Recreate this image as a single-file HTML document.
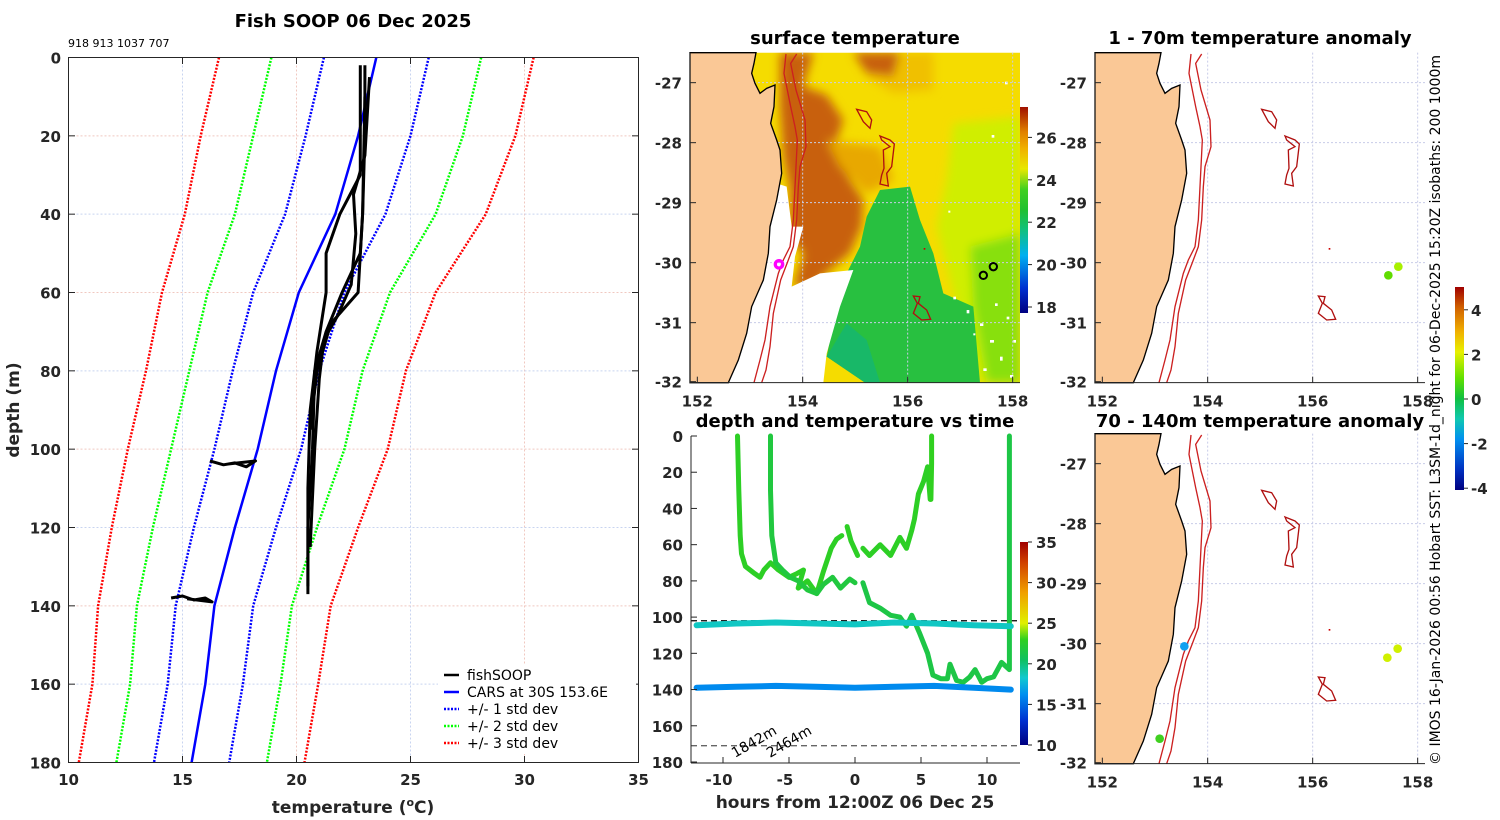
<!DOCTYPE html>
<html><head><meta charset="utf-8">
<style>
html,body{margin:0;padding:0;background:#fff;}
svg{display:block;font-family:"DejaVu Sans","Liberation Sans",sans-serif;}
.tk{font-size:15px;font-weight:bold;fill:#262626;}
.tt{font-size:18px;font-weight:bold;fill:#000;}
.lg{font-size:14px;fill:#000;}
</style></head>
<body>
<svg id="fig" width="1500" height="820" viewBox="0 0 1500 820" xmlns="http://www.w3.org/2000/svg">
<defs>
<linearGradient id="cbSST" x1="0" y1="1" x2="0" y2="0">
<stop offset="0" stop-color="#000080"/><stop offset="0.12" stop-color="#0030d0"/><stop offset="0.28" stop-color="#00b0f0"/><stop offset="0.4" stop-color="#10c080"/><stop offset="0.5" stop-color="#20c030"/><stop offset="0.6" stop-color="#40d020"/><stop offset="0.7" stop-color="#e8e800"/><stop offset="0.8" stop-color="#f0b000"/><stop offset="0.88" stop-color="#e08000"/><stop offset="1" stop-color="#a01000"/></linearGradient>
<linearGradient id="cbT" x1="0" y1="1" x2="0" y2="0">
<stop offset="0" stop-color="#000080"/><stop offset="0.12" stop-color="#0030d0"/><stop offset="0.25" stop-color="#0090f0"/><stop offset="0.33" stop-color="#10c8d0"/><stop offset="0.42" stop-color="#10c060"/><stop offset="0.52" stop-color="#30d020"/><stop offset="0.6" stop-color="#e0f000"/><stop offset="0.75" stop-color="#f0a000"/><stop offset="0.9" stop-color="#d04000"/><stop offset="1" stop-color="#a00000"/></linearGradient>
<linearGradient id="cbA" x1="0" y1="1" x2="0" y2="0">
<stop offset="0" stop-color="#000080"/><stop offset="0.1" stop-color="#0030c0"/><stop offset="0.25" stop-color="#0090f0"/><stop offset="0.35" stop-color="#10c8b0"/><stop offset="0.45" stop-color="#10c040"/><stop offset="0.55" stop-color="#60e000"/><stop offset="0.68" stop-color="#e8f000"/><stop offset="0.78" stop-color="#f0b000"/><stop offset="0.9" stop-color="#d06000"/><stop offset="1" stop-color="#a00000"/></linearGradient>
<filter id="bl"><feGaussianBlur stdDeviation="14"/></filter>
<clipPath id="clipMap"><rect x="30" y="38" width="990" height="990"/></clipPath>
</defs>

<!-- ===== Panel 1 ===== -->
<text class="tt" x="353" y="27" text-anchor="middle">Fish SOOP 06 Dec 2025</text>
<text x="68" y="47" font-size="11" fill="#000">918 913 1037 707</text>
<g id="p1grid"></g>
<g id="p1marks"></g>
<rect x="68.5" y="57.5" width="570" height="705" fill="none" stroke="#262626" stroke-width="1"/>
<g id="p1ticks"></g>
<text x="353" y="813" text-anchor="middle" font-size="17" font-weight="bold" fill="#262626">temperature (<tspan font-size="11" dy="-7">o</tspan><tspan dy="7">C)</tspan></text>
<text transform="translate(19,410) rotate(-90)" text-anchor="middle" font-size="17" font-weight="bold" fill="#262626">depth (m)</text>
<g>
<rect x="438" y="664" width="198" height="90" fill="#fff"/>
<line x1="444" y1="675" x2="459" y2="675" stroke="#000" stroke-width="2.5"/>
<text class="lg" x="467" y="680">fishSOOP</text>
<line x1="444" y1="692" x2="459" y2="692" stroke="#0000ff" stroke-width="2.5"/>
<text class="lg" x="467" y="697">CARS at 30S 153.6E</text>
<line x1="444" y1="709" x2="459" y2="709" stroke="#0000ff" stroke-width="2.5" stroke-dasharray="2,1.5"/>
<text class="lg" x="467" y="714">+/- 1 std dev</text>
<line x1="444" y1="726" x2="459" y2="726" stroke="#00ff00" stroke-width="2.5" stroke-dasharray="2,1.5"/>
<text class="lg" x="467" y="731">+/- 2 std dev</text>
<line x1="444" y1="743" x2="459" y2="743" stroke="#ff0000" stroke-width="2.5" stroke-dasharray="2,1.5"/>
<text class="lg" x="467" y="748">+/- 3 std dev</text>
</g>

<!-- ===== Panel 2: surface temperature map ===== -->
<text class="tt" x="855" y="44" text-anchor="middle">surface temperature</text>
<g transform="translate(680,40) scale(0.33333)">
 <g clip-path="url(#clipMap)">
  <rect x="30" y="38" width="990" height="990" fill="#f5dc00"/>
  <g filter="url(#bl)">
   <path d="M600,38 L760,38 L760,150 L640,160 L560,110 Z" fill="#f0c000"/>
   <path d="M820,250 L1020,230 L1020,1028 L900,1028 L820,760 L770,560 L800,420 Z" fill="#d0ee00"/>
   <path d="M870,620 L1020,580 L1020,1028 L920,1028 L880,800 Z" fill="#88e010"/>
   <path d="M520,38 L660,38 L640,110 L560,100 Z" fill="#c86010"/>
   <path d="M300,38 L400,38 L370,140 L440,165 L490,240 L460,330 L510,420 L550,480 L545,560 L510,640 L450,690 L400,740 L340,740 L370,640 L330,600 L330,450 L310,350 L300,200 Z" fill="#c86008"/>
   <path d="M440,300 L600,320 L640,420 L560,460 L480,380 Z" fill="#e8a800"/>
  </g>
  <path d="M600,450 L690,440 L720,540 L760,640 L790,760 L880,800 L900,1028 L555,1028 L440,950 L470,800 L500,700 L540,620 L560,530 Z" fill="#28c040"/>
  <path d="M440,950 L500,850 L560,900 L600,1028 L555,1028 Z" fill="#18b868"/>
  <path d="M290,430 L320,440 L335,560 L370,560 L345,650 L335,740 L420,700 L520,690 L480,800 L440,940 L430,1028 L145,1028 L175,960 L200,880 L215,800 L250,720 L265,640 L270,560 L285,480 Z" fill="#ffffff"/>
  <g fill="#fff">
   <rect x="820" y="770" width="8" height="8"/><rect x="860" y="810" width="8" height="10"/><rect x="900" y="850" width="10" height="8"/><rect x="930" y="900" width="12" height="8"/><rect x="960" y="950" width="8" height="12"/><rect x="910" y="985" width="10" height="8"/><rect x="980" y="830" width="8" height="8"/><rect x="945" y="790" width="8" height="8"/><rect x="990" y="1005" width="10" height="8"/><rect x="935" y="285" width="8" height="8"/><rect x="975" y="125" width="8" height="8"/><rect x="805" y="512" width="6" height="6"/><rect x="880" y="880" width="6" height="6"/><rect x="1000" y="900" width="8" height="8"/>
  </g>
 </g>
</g>
<g id="map2static"></g>
<rect x="1020" y="107" width="8" height="206" fill="url(#cbSST)"/>
<g id="cb2ticks"></g>

<!-- ===== Panel 3: depth vs time ===== -->
<text class="tt" x="855" y="427" text-anchor="middle">depth and temperature vs time</text>
<g id="p3marks"></g>
<g id="p3ticks"></g>
<text x="855" y="808" text-anchor="middle" font-size="17" font-weight="bold" fill="#262626">hours from 12:00Z 06 Dec 25</text>
<rect x="1020" y="542" width="8" height="203" fill="url(#cbT)"/>
<g id="cb3ticks"></g>

<!-- ===== Panels 4 & 5 ===== -->
<text class="tt" x="1260" y="44" text-anchor="middle">1 - 70m temperature anomaly</text>
<text class="tt" x="1260" y="427" text-anchor="middle">70 - 140m temperature anomaly</text>
<g id="map4"></g>
<g id="map5"></g>
<rect x="1455" y="287" width="9" height="203" fill="url(#cbA)"/>
<g id="cbAticks"></g>
<text transform="translate(1440,410) rotate(-90)" text-anchor="middle" font-size="14" fill="#000">© IMOS 16-Jan-2026 00:56 Hobart SST: L3SM-1d_night for 06-Dec-2025 15:20Z isobaths: 200  1000m</text>
</svg>

<script>
// ---------- Panel 1 data ----------
const depthLevels = [0, 20, 40, 60, 80, 100, 120, 140, 160, 180];
const carsMean = [23.5, 22.7, 21.7, 20.1, 19.1, 18.3, 17.3, 16.4, 16.0, 15.4];
const carsStd = [2.3, 2.3, 2.2, 2.0, 1.9, 1.9, 1.8, 1.7, 1.65, 1.65];
const prof1T = [23.0, 23.0, 22.9, 22.8, 22.0, 21.3, 20.8, 20.7, 20.5, 20.5];
const prof1D = [2, 20, 40, 50, 60, 70, 80, 100, 120, 137];
const prof2T = [22.8, 22.8, 21.9, 21.3, 21.3, 20.9, 20.6, 20.5, 20.5];
const prof2D = [2, 30, 40, 50, 60, 75, 90, 110, 135];
const prof3T = [23.2, 23.0, 22.5, 22.6, 22.4, 21.8, 21.2, 21.0, 20.8, 20.6];
const prof3D = [5, 25, 35, 45, 58, 66, 72, 82, 100, 125];
const prof4T = [23.0, 22.9, 22.7, 21.5, 20.9, 20.6];
const prof4D = [10, 40, 60, 68, 80, 95];
const blob1T = [16.2, 16.8, 17.3, 17.8, 18.2, 17.0];
const blob1D = [103, 104, 103.5, 104.5, 103, 103.8];
const blob2T = [14.5, 15.0, 15.5, 16.0, 16.3, 15.2];
const blob2D = [138, 137.5, 138.5, 138, 139, 138.2];
const xTicks1 = [10, 15, 20, 25, 30, 35];
const yTicks1 = [0, 20, 40, 60, 80, 100, 120, 140, 160, 180];

const NS = 'http://www.w3.org/2000/svg';
function mk(tag, attrs, parent){ const e=document.createElementNS(NS,tag); for(const k in attrs) e.setAttribute(k,attrs[k]); parent.appendChild(e); return e; }
const xT = t => 68.5 + (t-10)*22.8;
const yD = d => 57.5 + d*(705/180);

const g1 = document.getElementById('p1grid');
xTicks1.slice(1,-1).forEach((t,i)=>{
  const l=mk('line',{x1:xT(t),x2:xT(t),y1:57.5,y2:762.5,stroke:i%2?'#f0c8c0':'#c8d4f0','stroke-dasharray':'2,2'},g1);
   
});
yTicks1.slice(1,-1).forEach((d,i)=>{
  const l=mk('line',{x1:68.5,x2:638.5,y1:yD(d),y2:yD(d),stroke:i%2?'#c8d4f0':'#f0c8c0','stroke-dasharray':'2,2'},g1);
   
});
const m1 = document.getElementById('p1marks');
function pl(T,D,attrs,name){
  const pts=T.map((t,i)=>xT(t).toFixed(1)+','+yD(D[i]).toFixed(1)).join(' ');
  const p=mk('polyline',Object.assign({points:pts,fill:'none','stroke-linejoin':'round'},attrs),m1);
   
}
[[1,'#0000ff','std1'],[2,'#00ff00','std2'],[3,'#ff0000','std3']].forEach(([k,c,n])=>{
  pl(carsMean.map((m,i)=>m-k*carsStd[i]),depthLevels,{stroke:c,'stroke-width':2.5,'stroke-dasharray':'2,1.5'},n+'-lower');
  pl(carsMean.map((m,i)=>m+k*carsStd[i]),depthLevels,{stroke:c,'stroke-width':2.5,'stroke-dasharray':'2,1.5'},n+'-upper');
});
pl(carsMean,depthLevels,{stroke:'#0000ff','stroke-width':2.5},'cars-mean-line');
[[prof1T,prof1D],[prof2T,prof2D],[prof3T,prof3D],[prof4T,prof4D],[blob1T,blob1D],[blob2T,blob2D]].forEach(([T,D],i)=>{
  pl(T,D,{stroke:'#000','stroke-width':3},'fishsoop-profile-'+(i+1));
});
const t1=document.getElementById('p1ticks');
xTicks1.forEach(t=>{
  mk('line',{x1:xT(t),x2:xT(t),y1:762.5,y2:756,stroke:'#262626'},t1);
  mk('line',{x1:xT(t),x2:xT(t),y1:57.5,y2:64,stroke:'#262626'},t1);
  const tx=mk('text',{x:xT(t),y:785,class:'tk','text-anchor':'middle'},t1); tx.textContent=t;
   
});
yTicks1.forEach(d=>{
  mk('line',{x1:68.5,x2:75,y1:yD(d),y2:yD(d),stroke:'#262626'},t1);
  mk('line',{x1:638.5,x2:632,y1:yD(d),y2:yD(d),stroke:'#262626'},t1);
  const tx=mk('text',{x:61,y:yD(d)+6,class:'tk','text-anchor':'end'},t1); tx.textContent=d;
   
});

// ---------- Panel 3 data ----------
const trackA_t = [-8.9,-8.8,-8.7,-8.6,-8.3,-7.6,-7.2,-6.9,-6.4,-5.8,-5.0,-4.4,-3.9,-4.3,-3.6,-2.9,-2.4,-1.8,-1.4,-1.0];
const trackA_d = [0,30,55,65,72,76,78,74,70,74,78,76,74,84,80,87,75,62,57,55];
const trackA2_t = [-0.6,-0.3,0.2];
const trackA2_d = [50,58,66];
const trackA3_t = [0.6,1.1,1.9,2.7,3.4,3.9,4.3,4.5,4.8,5.2,5.5,5.7];
const trackA3_d = [62,66,60,66,56,62,52,46,32,25,17,35];
const trackA4_t = [5.75,5.8,5.8];
const trackA4_d = [35,15,0];
const trackB_t = [-6.4,-6.4,-6.3,-6.0,-5.5,-4.9,-4.3,-3.6,-2.9,-2.4,-1.7,-1.1,-0.4,0.0];
const trackB_d = [0,30,55,70,74,78,80,85,87,82,78,84,79,81];
const trackB2_t = [0.6,1.1,1.9,2.7,3.4,3.9,4.3,4.9,5.5,5.9,6.5,7.0,7.2,7.7,8.2,8.7,9.1,9.6,10.0,10.5,11.1,11.7,11.7,11.7];
const trackB2_d = [81,92,95,99,100,105,99,109,120,132,134,134,126,135,136,133,129,136,134,133,125,129,60,0];
const mid_t = [-12,-9,-6,-3,0,3,6,9,11.8];
const mid_d = [104.5,103.5,103,103.5,104,103,103.5,104.5,105];
const deep_t = [-12,-9,-6,-3,0,3,6,9,11.8];
const deep_d = [139,138.5,138,138.5,139,138.5,138,139,140];
const trackTemps = [22.8, 22.8, 22.8, 23.0, 21.8, 21.5, 18.3, 15.8];
const xTicks3 = [-10,-5,0,5,10];
const yTicks3 = [0,20,40,60,80,100,120,140,160,180];
const cTicks3 = [10,15,20,25,30,35];
const isoDepths = [102, 171];

const xH = h => 855 + h*13.2;
const yM = d => 436 + d*(326/180);
const stops=[[10,[0,0,128]],[13,[0,48,208]],[16,[0,144,240]],[18,[16,200,208]],[20.5,[16,192,96]],[23,[48,208,32]],[25,[224,240,0]],[29,[240,160,0]],[32.5,[208,64,0]],[35,[160,0,0]]];
function cmap(v){
  for(let i=1;i<stops.length;i++){ if(v<=stops[i][0]){ const [a,ca]=stops[i-1],[b,cb]=stops[i]; const f=Math.max(0,(v-a)/(b-a)); return 'rgb('+ca.map((c,j)=>Math.round(c+(cb[j]-c)*f)).join(',')+')'; } }
  return 'rgb(160,0,0)';
}
const m3=document.getElementById('p3marks');
const tr=[[trackA_t,trackA_d],[trackA2_t,trackA2_d],[trackA3_t,trackA3_d],[trackA4_t,trackA4_d],[trackB_t,trackB_d],[trackB2_t,trackB2_d],[mid_t,mid_d],[deep_t,deep_d]];
isoDepths.forEach((d,i)=>{
  const l=mk('line',{x1:691,x2:1020,y1:yM(d),y2:yM(d),stroke:i?'#666':'#000','stroke-width':1.3,'stroke-dasharray':'6,4'},m3);
   
});
tr.forEach(([T,D],i)=>{
  const pts=T.map((t,j)=>xH(t).toFixed(1)+','+yM(D[j]).toFixed(1)).join(' ');
  const p=mk('polyline',{points:pts,fill:'none',stroke:cmap(trackTemps[i]),'stroke-width':i>=6?6:5,'stroke-linecap':'round','stroke-linejoin':'round'},m3);
   
});
const lab1=mk('text',{transform:'translate(735,758) rotate(-30)',class:'lg','font-size':'13'},m3); lab1.textContent='1842m';
 
const lab2=mk('text',{transform:'translate(770,758) rotate(-30)',class:'lg','font-size':'13'},m3); lab2.textContent='2464m';
 
const t3=document.getElementById('p3ticks');
mk('line',{x1:691,x2:691,y1:436,y2:763,stroke:'#262626'},t3);
mk('line',{x1:691,x2:1020,y1:763,y2:763,stroke:'#262626'},t3);
xTicks3.forEach(h=>{
  mk('line',{x1:xH(h),x2:xH(h),y1:763,y2:757,stroke:'#262626'},t3);
  const tx=mk('text',{x:xH(h)-(h<0?4:0),y:785,class:'tk','text-anchor':'middle'},t3); tx.textContent=h;
   
});
yTicks3.forEach(d=>{
  mk('line',{x1:691,x2:697,y1:yM(d),y2:yM(d),stroke:'#262626'},t3);
  const tx=mk('text',{x:683,y:yM(d)+6,class:'tk','text-anchor':'end'},t3); tx.textContent=d;
   
});
const c3=document.getElementById('cb3ticks');
cTicks3.forEach(v=>{
  const y=745-(v-10)*203/25;
  mk('line',{x1:1028,x2:1032,y1:y,y2:y,stroke:'#262626'},c3);
  const tx=mk('text',{x:1036,y:y+6,class:'tk'},c3); tx.textContent=v;
   
});

// ---------- colorbar ticks ----------
const cTicks2=[18,20,22,24,26];
const c2=document.getElementById('cb2ticks');
cTicks2.forEach(v=>{
  const y=307-(v-18)*21.2;
  mk('line',{x1:1028,x2:1032,y1:y,y2:y,stroke:'#262626'},c2);
  const tx=mk('text',{x:1036,y:y+6,class:'tk'},c2); tx.textContent=v;
   
});
const cTicksA=[-4,-2,0,2,4];
const cA=document.getElementById('cbAticks');
cTicksA.forEach(v=>{
  const y=399-v*22.3;
  mk('line',{x1:1464,x2:1468,y1:y,y2:y,stroke:'#262626'},cA);
  const tx=mk('text',{x:1471,y:y+6,class:'tk','font-size':'13'},cA); tx.textContent=v;
   
});

// ---------- maps (shared geometry in 3x-zoom coordinates) ----------
const coast="M228,38 L222,70 L215,100 L225,130 L240,160 L260,145 L285,135 L282,200 L272,250 L290,300 L300,330 L305,400 L290,480 L270,560 L265,640 L250,720 L215,800 L200,880 L175,960 L145,1028";
const land=coast+" L30,1028 L30,38 Z";
const iso200="M318,42 L312,100 L332,200 L345,260 L352,300 L348,380 L345,440 L340,540 L330,620 L310,660 L295,700 L270,800 L255,900 L240,960 L222,1028";
const iso1000="M350,42 L332,70 L348,150 L375,240 L378,320 L360,380 L355,440 L350,540 L340,620 L322,668 L302,720 L280,820 L270,920 L258,990 L245,1028";
const seamounts=["M530,208 L560,215 L575,240 L570,265 L550,245 Z","M600,288 L630,300 L643,312 L635,380 L620,400 L625,438 L600,432 L605,405 L612,385 L610,330 L630,320 L605,300 Z","M700,768 L720,770 L715,790 L740,810 L752,838 L725,840 L700,820 L712,790 Z"];
const latTicksZ=[128,308,488,668,848,1025], lonTicksZ=[52,368,683,998];
function drawMap(g,tx,ty,showSST,dots){
  const gg=mk('g',{transform:'translate('+tx+','+ty+') scale(0.33333)'},g);
  if(!showSST){ mk('rect',{x:30,y:38,width:990,height:990,fill:'#fff'},gg); }
  latTicksZ.slice(0,5).forEach(y=>{ mk('line',{x1:30,x2:1020,y1:y,y2:y,stroke:'#c8cce8','stroke-width':3,'stroke-dasharray':'6,6'},gg); });
  lonTicksZ.slice(1).forEach(x=>{ mk('line',{x1:x,x2:x,y1:38,y2:1028,stroke:'#c8cce8','stroke-width':3,'stroke-dasharray':'6,6'},gg); });
  const l=mk('path',{d:land,fill:'#fac896',stroke:'#000','stroke-width':4},gg);
   
  [iso200,iso1000].forEach(d=>{ const p=mk('path',{d:d,fill:'none',stroke:'#cc2020','stroke-width':4},gg);   });
  seamounts.forEach(d=>{ const p=mk('path',{d:d,fill:'none',stroke:'#b01010','stroke-width':4},gg);   });
  mk('rect',{x:731,y:624,width:5,height:5,fill:'#c00'},gg);
  dots.forEach(([x,y,c,r,stroke])=>{
    const d=mk('circle',{cx:x,cy:y,r:r,fill:stroke?'none':c,stroke:stroke||'none','stroke-width':stroke?(stroke==='#ff00ff'?10:6):0},gg);
     
  });
  mk('polyline',{points:'30,38 30,1028 1020,1028',fill:'none',stroke:'#262626','stroke-width':3},gg);
  lonTicksZ.forEach(x=>{ mk('line',{x1:x,x2:x,y1:1028,y2:1010,stroke:'#262626','stroke-width':3},gg); });
  const lons=[152,154,156,158];
  lonTicksZ.forEach((x,i)=>{ const t=mk('text',{x:tx+x/3,y:ty+1088/3+4,class:'tk','text-anchor':'middle'},g); t.textContent=lons[i];   });
  const lats=[-27,-28,-29,-30,-31,-32];
  latTicksZ.forEach((y,i)=>{ mk('line',{x1:tx+10,x2:tx+16,y1:ty+y/3,y2:ty+y/3,stroke:'#262626'},g); const t=mk('text',{x:tx+2,y:ty+y/3+6,class:'tk','text-anchor':'end'},g); t.textContent=lats[i];   });
}
const m2=document.getElementById('map2static');
drawMap(m2,680,40,true,[[297,673,'',11,'#ff00ff'],[910,706,'',11,'#000'],[940,680,'',11,'#000']]);
drawMap(document.getElementById('map4'),1085,40,false,[[910,706,'#60dc00',13],[940,680,'#a8f000',13]]);
drawMap(document.getElementById('map5'),1085,421,false,[[907,710,'#d0f000',13],[938,683,'#d0f000',13],[298,676,'#10a0f0',13],[224,953,'#40d020',13]]);
</script>
</body></html>
